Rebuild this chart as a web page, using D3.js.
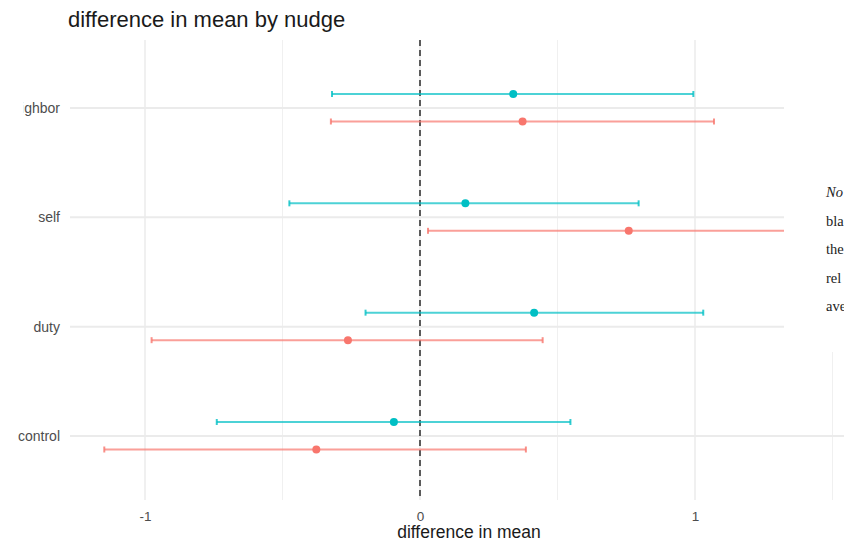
<!DOCTYPE html>
<html><head><meta charset="utf-8">
<script src="https://cdn.jsdelivr.net/npm/d3@7"></script>
<style>body{margin:0;background:#fff;} svg{display:block;}</style>
</head><body>
<svg id="chart" width="844" height="543"></svg>
<script>
const categories = ["neighbor", "self", "duty", "control"];
const seriesNames = ["group A", "group B"];
const tealEst = [0.339, 0.165, 0.415, -0.095];
const tealLo = [-0.32, -0.475, -0.198, -0.739];
const tealHi = [0.994, 0.795, 1.03, 0.547];
const redEst = [0.373, 0.759, -0.262, -0.377];
const redLo = [-0.324, 0.029, -0.976, -1.148];
const redHi = [1.069, 1.49, 0.446, 0.385];
const majorTicks = [-1, 0, 1];
const minorTicks = [-0.5, 0.5, 1.5];
const noteLines = ["No", "bla", "the", "rel", "ave"];

const svg = d3.select("#chart");
const colors = {"group A": "#00BFC4", "group B": "#F8766D"};
const panel = {left: 70, right: 869, top: 40, bottom: 500};

const x = d3.scaleLinear().domain([-1.2727, 1.6327]).range([panel.left, panel.right]);
const y = d3.scalePoint().domain(categories).range([108, 436]);
const dodge = d3.scalePoint().domain(seriesNames).range([-14, 13.5]);

const rows = [];
categories.forEach((c, i) => {
  rows.push({cat: c, s: "group A", est: tealEst[i], lo: tealLo[i], hi: tealHi[i]});
  rows.push({cat: c, s: "group B", est: redEst[i], lo: redLo[i], hi: redHi[i]});
});

const g = svg.append("g");
g.selectAll(".minor").data(minorTicks).join("line")
  .attr("x1", d => x(d)).attr("x2", d => x(d))
  .attr("y1", panel.top).attr("y2", panel.bottom)
  .attr("stroke", "#f0f0f0").attr("stroke-width", 1);
g.selectAll(".majorv").data(majorTicks).join("line")
  .attr("x1", d => x(d)).attr("x2", d => x(d))
  .attr("y1", panel.top).attr("y2", panel.bottom)
  .attr("stroke", "#ebebeb").attr("stroke-width", 1.5);
g.selectAll(".majorh").data(categories).join("line")
  .attr("x1", panel.left).attr("x2", panel.right)
  .attr("y1", d => y(d)).attr("y2", d => y(d))
  .attr("stroke", "#ebebeb").attr("stroke-width", 2);

g.append("line")
  .attr("x1", x(0)).attr("x2", x(0))
  .attr("y1", panel.top).attr("y2", panel.bottom)
  .attr("stroke", "#2a2a2a").attr("stroke-width", 1.5)
  .attr("stroke-dasharray", "6,4");

const eb = g.selectAll(".eb").data(rows).join("g")
  .attr("transform", d => `translate(0,${y(d.cat) + dodge(d.s)})`);
eb.append("line")
  .attr("x1", d => x(d.lo)).attr("x2", d => x(d.hi))
  .attr("stroke", d => colors[d.s]).attr("stroke-width", 2).attr("stroke-opacity", 0.7);
eb.append("line")
  .attr("x1", d => x(d.lo)).attr("x2", d => x(d.lo)).attr("y1", -3).attr("y2", 3)
  .attr("stroke", d => colors[d.s]).attr("stroke-width", 2).attr("stroke-opacity", 0.8);
eb.append("line")
  .attr("x1", d => x(d.hi)).attr("x2", d => x(d.hi)).attr("y1", -3).attr("y2", 3)
  .attr("stroke", d => colors[d.s]).attr("stroke-width", 2).attr("stroke-opacity", 0.8);
eb.append("circle")
  .attr("cx", d => x(d.est)).attr("r", 4)
  .attr("fill", d => colors[d.s]);

const font = "'Liberation Sans', Arial, sans-serif";
const xa = svg.append("g").attr("transform", `translate(0,${panel.bottom + 8})`)
  .call(d3.axisBottom(x).tickValues(majorTicks).tickSize(0).tickFormat(d => String(d)));
xa.select(".domain").remove();
xa.selectAll("text").attr("font-family", font).attr("font-size", 13.5).attr("fill", "#4d4d4d");

const ya = svg.append("g").attr("transform", `translate(${panel.left - 10},0)`)
  .call(d3.axisLeft(y).tickSize(0).tickPadding(0));
ya.select(".domain").remove();
ya.selectAll("text").attr("font-family", font).attr("font-size", 14).attr("fill", "#4d4d4d");
// clip neighbor label (the reference image is cropped at its left)
const tickN = ya.selectAll(".tick").filter(d => d === "neighbor");
const tn = tickN.select("text").node();
const fullW = tn.getComputedTextLength();
const cutW = tn.getSubStringLength(0, 3);
tickN.append("clipPath").attr("id", "yclipN").append("rect")
  .attr("x", -fullW + cutW - 0.5).attr("y", -20).attr("width", 200).attr("height", 40);
tickN.select("text").attr("clip-path", "url(#yclipN)");

svg.append("text").attr("x", 68).attr("y", 27)
  .attr("font-family", font).attr("font-size", 22).attr("fill", "#1a1a1a")
  .text("difference in mean by nudge");
svg.append("text").attr("x", 469).attr("y", 538).attr("text-anchor", "middle")
  .attr("font-family", font).attr("font-size", 17.5).attr("fill", "#1a1a1a")
  .text("difference in mean");

svg.append("rect").attr("x", 784).attr("y", 0).attr("width", 60).attr("height", 352).attr("fill", "#fff");
svg.append("g").selectAll("text").data(noteLines).join("text")
  .attr("x", 826).attr("y", (d, i) => 197 + i * 28.5)
  .attr("font-family", "'Liberation Serif', 'Times New Roman', serif")
  .attr("font-size", 14.5).attr("fill", "#222")
  .attr("font-style", (d, i) => i === 0 ? "italic" : "normal")
  .text(d => d);
</script>
</body></html>
